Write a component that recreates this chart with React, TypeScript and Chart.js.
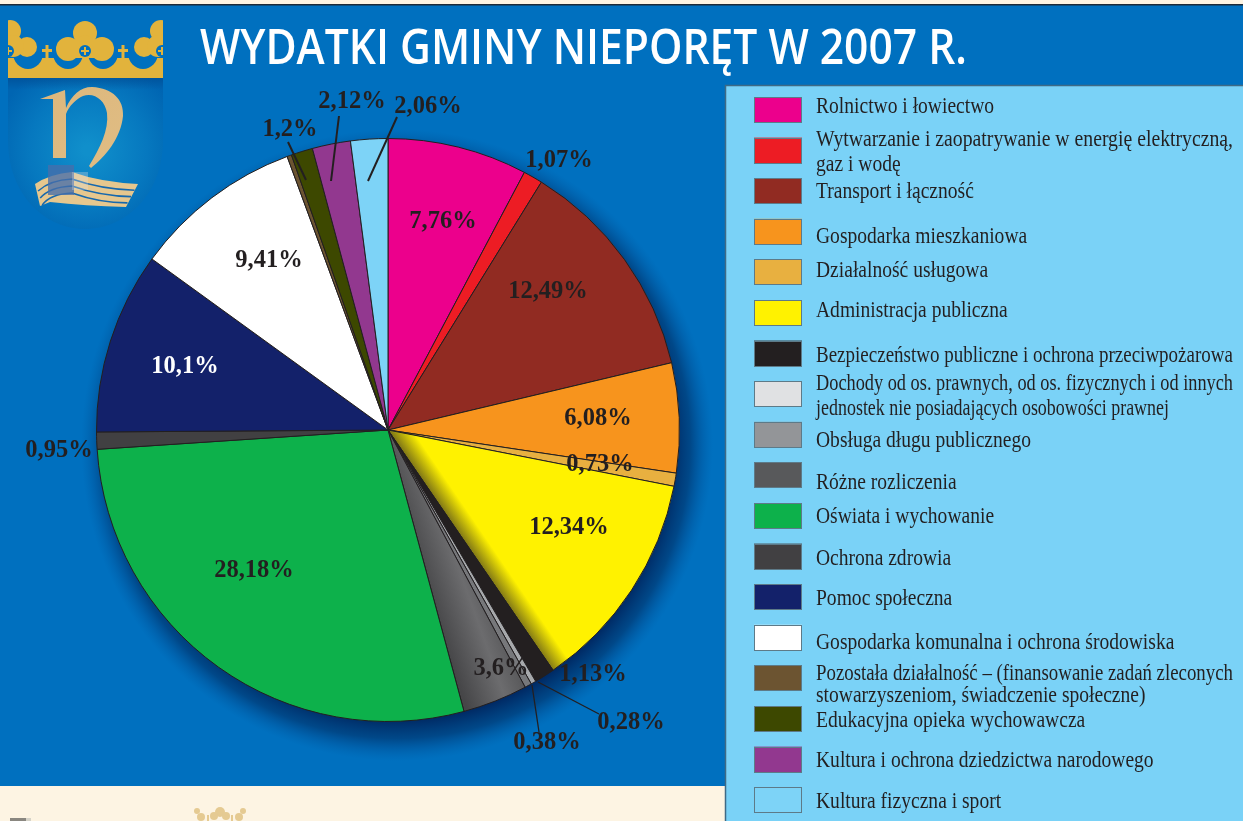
import React, { useEffect, useRef } from "react";
import { Chart, registerables } from "chart.js";

Chart.register(...registerables);

const chartTitle = "WYDATKI GMINY NIEPORĘT W 2007 R.";

const categories = [
  "Rolnictwo i łowiectwo",
  "Wytwarzanie i zaopatrywanie w energię elektryczną,\ngaz i wodę",
  "Transport i łączność",
  "Gospodarka mieszkaniowa",
  "Działalność usługowa",
  "Administracja publiczna",
  "Bezpieczeństwo publiczne i ochrona przeciwpożarowa",
  "Dochody od os. prawnych, od os. fizycznych i od innych\njednostek nie posiadających osobowości prawnej",
  "Obsługa długu publicznego",
  "Różne rozliczenia",
  "Oświata i wychowanie",
  "Ochrona zdrowia",
  "Pomoc społeczna",
  "Gospodarka komunalna i ochrona środowiska",
  "Pozostała działalność – (finansowanie zadań zleconych\nstowarzyszeniom, świadczenie społeczne)",
  "Edukacyjna opieka wychowawcza",
  "Kultura i ochrona dziedzictwa narodowego",
  "Kultura fizyczna i sport",
];

// Percent shares as printed; the unlabelled "Pozostała działalność" share is estimated from the slice.
const values = [7.76, 1.07, 12.49, 6.08, 0.73, 12.34, 1.13, 0.28, 0.38, 3.6, 28.18, 0.95, 10.1, 9.41, 0.25, 1.2, 2.12, 2.06];
const showValue = [true, true, true, true, true, true, true, true, true, true, true, true, true, true, false, true, true, true];

const colors = [
  "#ec008c", "#ed1c24", "#912b22", "#f7941d", "#e8b040", "#fff200", "#231f20", "#e0e1e3", "#939598",
  "#58595b", "#0db14b", "#414042", "#13216a", "#ffffff", "#6c5431", "#3d4800", "#92388f", "#7dd3f7",
];

// Layout only: label centres, leader lines, legend rows
const labelCentres = [
  [443, 222], [559, 161], [548, 292], [598, 419], [600, 465], [569, 528], [593, 675], [631, 723], [547, 743],
  [501, 669], [254, 571], [59, 451], [185, 367], [269, 261], [0, 0], [290, 130], [352, 102], [428, 107],
];
const leaders = [
  [288, 142, 306, 180, 2], [339, 116, 331, 181, 2], [397, 117, 368, 181, 2], [538, 682, 599, 714, 1.3], [532, 685, 539, 732, 1.3],
];
const legendTextY = [
  [113], [146, 171], [198], [243], [277], [317], [362], [390, 415], [447], [489], [523], [565], [605], [649], [680, 702], [727], [767], [808],
];
const legendLineWidths: Record<string, number> = { "1:0": 417, "6:0": 417, "7:0": 417, "7:1": 353, "14:0": 417 };

const CX = 388;
const CY = 430;
const R = 292;

function drawShield(c: CanvasRenderingContext2D) {
  const gold = "#e2b33c";
  const blue = "#0070bf";
  c.save();
  // shield
  c.beginPath();
  c.moveTo(8, 78);
  c.lineTo(163, 78);
  c.lineTo(163, 140);
  c.bezierCurveTo(163, 195, 125, 229, 85, 229);
  c.bezierCurveTo(45, 229, 8, 195, 8, 140);
  c.closePath();
  const g = c.createRadialGradient(88, 150, 5, 88, 150, 95);
  g.addColorStop(0, "#108fcb");
  g.addColorStop(0.6, "#0678bf");
  g.addColorStop(1, "#0065b2");
  c.fillStyle = g;
  c.fill();
  const band = c.createLinearGradient(0, 78, 0, 90);
  band.addColorStop(0, "rgba(0,70,140,0.55)");
  band.addColorStop(1, "rgba(0,70,140,0)");
  c.fillStyle = band;
  c.fillRect(8, 78, 155, 12);

  // crown
  c.save();
  c.beginPath();
  c.rect(8, 18, 155, 60);
  c.clip();
  c.fillStyle = gold;
  c.fillRect(8, 58, 155, 20);
  c.fillStyle = blue;
  for (const x of [28, 68, 103, 143]) {
    c.beginPath();
    c.ellipse(x, 53, 15, 16, 0, 0, Math.PI * 2);
    c.fill();
  }
  c.fillStyle = gold;
  const lobes = [
    [85, 33, 12], [68, 49, 12], [102, 49, 12], [85, 44, 9],
    [10, 31, 11], [27, 47, 10], [13, 46, 11],
    [161, 31, 11], [144, 47, 10], [158, 46, 11],
  ];
  for (const [x, y, r] of lobes) {
    c.beginPath();
    c.arc(x, y, r, 0, Math.PI * 2);
    c.fill();
  }
  c.fillRect(72, 40, 26, 18);
  for (const x of [47, 123]) {
    c.fillRect(x - 1.5, 45, 3, 18);
    c.fillRect(x - 5, 49, 10, 3);
  }
  c.fillStyle = blue;
  for (const x of [8, 85, 162]) {
    c.beginPath();
    c.arc(x, 51, 6, 0, Math.PI * 2);
    c.fill();
  }
  c.fillStyle = gold;
  for (const x of [8, 85, 162]) {
    c.fillRect(x - 1, 47, 2, 8);
    c.fillRect(x - 4, 50, 8, 2);
  }
  c.restore();

  // letter
  const tan = c.createLinearGradient(40, 90, 120, 170);
  tan.addColorStop(0, "#dcb77c");
  tan.addColorStop(1, "#e0bd84");
  c.fillStyle = tan;
  c.beginPath();
  c.moveTo(40, 99);
  c.lineTo(65, 90);
  c.lineTo(66, 108);
  c.bezierCurveTo(72, 95, 80, 87, 92, 87);
  c.bezierCurveTo(113, 88, 124, 100, 123, 116);
  c.bezierCurveTo(121, 138, 105, 157, 91, 168);
  c.lineTo(89, 166);
  c.bezierCurveTo(100, 148, 109, 130, 107, 113);
  c.bezierCurveTo(105, 100, 94, 92, 83, 96);
  c.bezierCurveTo(76, 99, 69, 106, 66, 114);
  c.lineTo(66, 158);
  c.lineTo(53, 158);
  c.lineTo(53, 99);
  c.closePath();
  c.fill();

  // ship
  c.fillStyle = "#e6c78e";
  c.beginPath();
  c.moveTo(35, 184);
  c.quadraticCurveTo(50, 174, 72, 172);
  c.quadraticCurveTo(100, 182, 138, 184);
  c.lineTo(126, 207);
  c.quadraticCurveTo(85, 206, 50, 202);
  c.lineTo(40, 206);
  c.closePath();
  c.fill();
  c.strokeStyle = "#1668ad";
  c.lineWidth = 1.6;
  for (const d of [7, 14, 21]) {
    c.beginPath();
    c.moveTo(36 + d * 0.3, 184 + d);
    c.quadraticCurveTo(50, 173 + d, 72, 172 + d);
    c.quadraticCurveTo(100, 182 + d, 138 - d * 0.5, 184 + d * 0.9);
    c.stroke();
  }
  c.fillStyle = "rgba(70,110,170,0.78)";
  c.fillRect(48, 165, 26, 30);
  c.fillStyle = "rgba(225,225,225,0.3)";
  c.fillRect(72, 172, 16, 18);
  c.restore();
}

function drawFaintCrown(c: CanvasRenderingContext2D) {
  c.save();
  c.beginPath();
  c.rect(190, 800, 60, 21);
  c.clip();
  c.fillStyle = "#e5ca92";
  for (const [x, y, r] of [[220, 812, 5], [214, 816, 4], [226, 816, 4], [197, 811, 3], [201, 817, 4], [243, 811, 3], [239, 817, 4]]) {
    c.beginPath();
    c.arc(x, y, r, 0, Math.PI * 2);
    c.fill();
  }
  c.fillRect(207, 815, 2, 6);
  c.fillRect(231, 815, 2, 6);
  c.restore();
  c.fillStyle = "#8a8780";
  c.fillRect(10, 818, 16, 3);
  c.fillStyle = "#d6d3c8";
  c.fillRect(26, 818, 5, 3);
}

const scene = {
  id: "scene",
  beforeDraw(chart: any) {
    const c: CanvasRenderingContext2D = chart.ctx;
    c.save();
    c.fillStyle = "#fdf4e3";
    c.fillRect(0, 0, 1243, 821);
    c.fillStyle = "#0070bf";
    c.fillRect(0, 5, 1243, 781);
    c.fillStyle = "#1d2a38";
    c.fillRect(0, 4, 1243, 1.5);
    const sx = CX + 9;
    const sy = CY + 15;
    const sh = c.createRadialGradient(sx, sy, R - 17, sx, sy, R + 24);
    sh.addColorStop(0, "rgba(0,30,85,0.85)");
    sh.addColorStop(0.45, "rgba(0,45,100,0.6)");
    sh.addColorStop(0.75, "rgba(0,60,125,0.25)");
    sh.addColorStop(1, "rgba(0,80,150,0)");
    c.fillStyle = sh;
    c.beginPath();
    c.rect(0, 5, 725, 781);
    c.clip();
    c.beginPath();
    c.arc(sx, sy, R + 24, 0, Math.PI * 2);
    c.fill();
    c.restore();
    c.save();
    drawFaintCrown(c);
    drawShield(c);
    // panel
    c.fillStyle = "#7ad2f7";
    c.fillRect(725, 85, 518, 736);
    c.strokeStyle = "#3f6a85";
    c.lineWidth = 1.5;
    c.beginPath();
    c.moveTo(725.5, 821);
    c.lineTo(725.5, 85.5);
    c.lineTo(1243, 85.5);
    c.stroke();
    c.restore();
  },
  afterDatasetsDraw(chart: any) {
    const c: CanvasRenderingContext2D = chart.ctx;
    c.save();
    // title
    c.fillStyle = "#ffffff";
    c.font = "600 48px 'Open Sans'";
    c.textBaseline = "alphabetic";
    c.textAlign = "left";
    const tw = c.measureText(chartTitle).width;
    c.save();
    c.translate(200, 64);
    c.scale(767 / tw, 1);
    c.fillText(chartTitle, 0, 0);
    c.restore();

    // leaders
    c.strokeStyle = "#231f20";
    for (const [x1, y1, x2, y2, w] of leaders) {
      c.lineWidth = w;
      c.beginPath();
      c.moveTo(x1, y1);
      c.lineTo(x2, y2);
      c.stroke();
    }

    // value labels
    c.font = "bold 24.5px 'Liberation Serif'";
    c.textAlign = "center";
    c.textBaseline = "middle";
    values.forEach((v, i) => {
      if (!showValue[i]) return;
      c.fillStyle = i === 12 ? "#ffffff" : "#231f20";
      c.fillText(String(v).replace(".", ",") + "%", labelCentres[i][0], labelCentres[i][1]);
    });

    // legend
    c.textAlign = "left";
    c.textBaseline = "alphabetic";
    c.font = "23px 'Liberation Serif'";
    categories.forEach((name, i) => {
      const y = 97 + 40.6 * i;
      c.fillStyle = colors[i];
      c.fillRect(754, y, 48, 25.5);
      c.strokeStyle = "#5d7a88";
      c.lineWidth = 1;
      c.strokeRect(754.5, Math.round(y) + 0.5, 47, 25);
      c.fillStyle = "#231f20";
      name.split("\n").forEach((line, k) => {
        const mw = legendLineWidths[i + ":" + k];
        const sc = mw ? mw / c.measureText(line).width : 0.85;
        c.save();
        c.translate(816, legendTextY[i][k]);
        c.scale(sc, 1);
        c.fillText(line, 0, 0);
        c.restore();
      });
    });
    c.restore();
  },
};

export default function App() {
  const ref = useRef<HTMLCanvasElement>(null);
  useEffect(() => {
    document.body.style.margin = "0";
    const canvas = ref.current!;
    const ctx = canvas.getContext("2d")!;
    const grey = ctx.createLinearGradient(465, 702, 532, 678);
    grey.addColorStop(0, "#464648");
    grey.addColorStop(0.55, "#6c6c6e");
    grey.addColorStop(1, "#505052");
    const yellow = ctx.createLinearGradient(CX, CY, CX + 0.826 * 20, CY - 0.563 * 20);
    yellow.addColorStop(0, "#7d7417");
    yellow.addColorStop(1, "#fff200");
    const fills: any[] = colors.slice();
    fills[9] = grey;
    fills[5] = yellow;
    fills[7] = "#a7a9ac";
    fills[8] = "#77787b";
    const chart = new Chart(canvas, {
      type: "pie",
      data: {
        labels: categories,
        datasets: [
          {
            data: values,
            backgroundColor: fills,
            borderColor: "#231f20",
            borderWidth: 1,
            hoverBorderWidth: 1,
            borderAlign: "center",
          },
        ],
      },
      options: {
        responsive: false,
        animation: false,
        layout: { padding: { left: 96, right: 563, top: 138, bottom: 99 } },
        plugins: { legend: { display: false }, tooltip: { enabled: false } },
        events: [],
      } as any,
      plugins: [scene],
    });
    return () => chart.destroy();
  }, []);
  return (
    <div style={{ position: "absolute", left: 0, top: 0, width: 1243, height: 821 }}>
      <canvas ref={ref} width={1243} height={821} style={{ display: "block" }} />
    </div>
  );
}
